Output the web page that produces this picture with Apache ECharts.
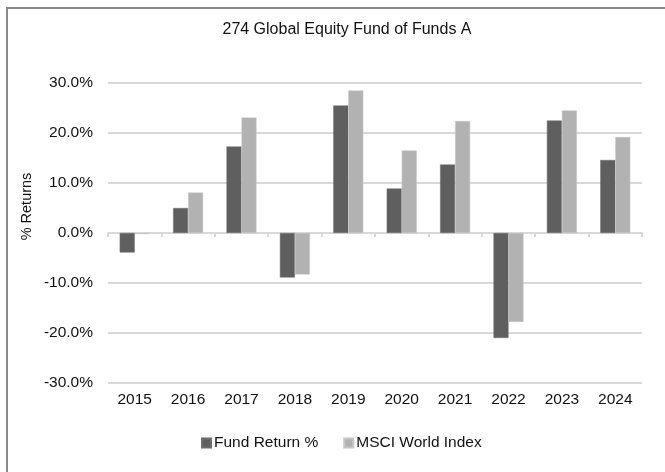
<!DOCTYPE html>
<html>
<head>
<meta charset="utf-8">
<script src="https://cdn.jsdelivr.net/npm/echarts@6/dist/echarts.min.js"></script>
<style>
html,body{margin:0;padding:0;background:#fff;}
#chart{width:665px;height:472px;}
</style>
</head>
<body>
<div id="chart"></div>
<script>
var titleText = '274 Global Equity Fund of Funds A';
var yAxisTitle = '% Returns';
var categories = ['2015','2016','2017','2018','2019','2020','2021','2022','2023','2024'];
var seriesNames = ['Fund Return %', 'MSCI World Index'];
var fundReturn = [-3.9, 5.0, 17.3, -8.9, 25.5, 8.9, 13.7, -21.0, 22.5, 14.6];
var msciWorld = [-0.2, 8.1, 23.1, -8.3, 28.5, 16.5, 22.4, -17.8, 24.5, 19.2];
var yTicks = [-30, -20, -10, 0, 10, 20, 30];

var FONT = "'Liberation Sans', Arial, sans-serif";
var chart = echarts.init(document.getElementById('chart'), null, {renderer: 'canvas'});
chart.setOption({
  animation: false,
  backgroundColor: '#fff',
  grid: {left: 108, right: 23, top: 83, bottom: 89, containLabel: false},
  legend: {
    data: seriesNames,
    left: 201, top: 435,
    padding: 0,
    itemWidth: 9, itemHeight: 9, itemGap: 25,
    icon: 'rect',
    textStyle: {fontFamily: FONT, fontSize: 15.5, color: '#111', padding: [0,0,0,-2]}
  },
  xAxis: {
    type: 'category',
    data: categories,
    axisLine: {lineStyle: {color: '#d9d9d9', width: 2}},
    axisTick: {show: true, alignWithLabel: false, length: 4, lineStyle: {color: '#d9d9d9', width: 2}},
    axisLabel: {fontFamily: FONT, fontSize: 15.5, color: '#111', margin: 9, interval: 0},
    splitLine: {show: false}
  },
  yAxis: {
    type: 'value',
    min: yTicks[0], max: yTicks[yTicks.length - 1], interval: 10,
    axisLine: {show: false},
    axisTick: {show: false},
    axisLabel: {fontFamily: FONT, fontSize: 15.5, color: '#111', margin: 15,
      formatter: function (v) { return v.toFixed(1) + '%'; }},
    splitLine: {lineStyle: {color: '#d9d9d9', width: 2}}
  },
  series: [
    {name: seriesNames[0], type: 'bar', data: fundReturn, barWidth: 15, barGap: '0%',
     itemStyle: {color: '#5f5f5f', borderColor: '#6e6e6e', borderWidth: 0.5}},
    {name: seriesNames[1], type: 'bar', data: msciWorld, barWidth: 15, barGap: '0%',
     itemStyle: {color: '#b2b2b2', borderColor: '#c6c6c6', borderWidth: 0.5}}
  ],
  graphic: [
    {type: 'rect', shape: {x: 7, y: 8, width: 720, height: 520},
     style: {fill: 'none', stroke: '#888', lineWidth: 2}, silent: true},
    {type: 'text', x: 347, y: 29.5,
     style: {text: titleText, font: '16px ' + FONT, fill: '#111', textAlign: 'center', textVerticalAlign: 'middle'}},
    {type: 'text', x: 27, y: 206.5, rotation: Math.PI / 2,
     style: {text: yAxisTitle, font: '14.5px ' + FONT, fill: '#111', textAlign: 'center', textVerticalAlign: 'middle'}}
  ]
});
</script>
</body>
</html>
